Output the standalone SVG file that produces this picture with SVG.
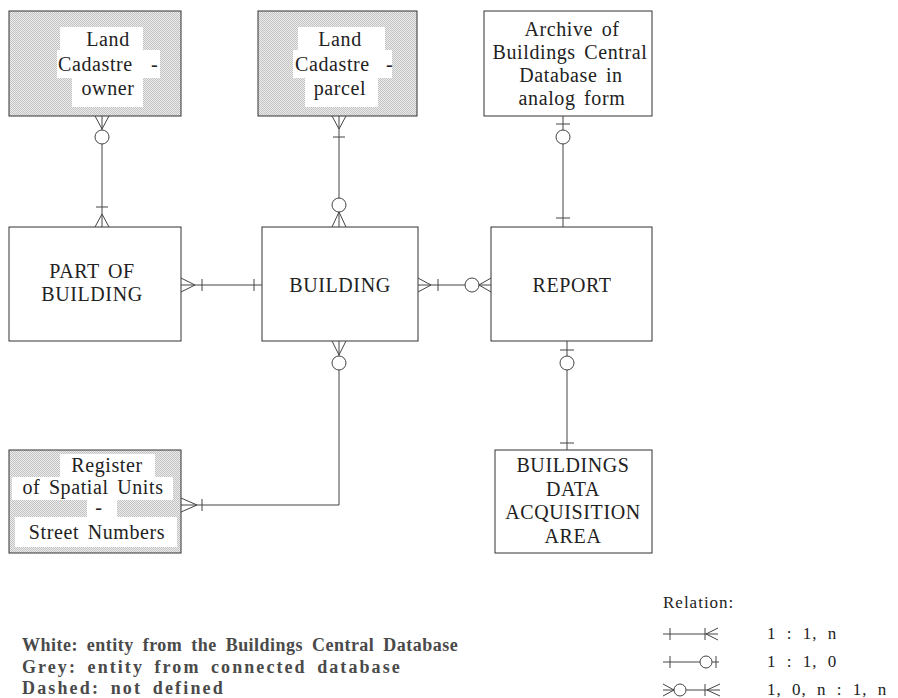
<svg xmlns="http://www.w3.org/2000/svg" width="898" height="698" viewBox="0 0 898 698">
  <defs>
    <!-- halftone grey used for entities of connected databases -->
    <pattern id="halftone" width="2" height="2" patternUnits="userSpaceOnUse">
      <rect width="2" height="2" fill="#ededed"/>
      <rect width="1" height="1" fill="#c2c2c2"/>
      <rect x="1" y="1" width="1" height="1" fill="#c2c2c2"/>
    </pattern>
  </defs>
  <style>
    .box { fill: #ffffff; stroke: #333; stroke-width: 1; }
    .grey { fill: url(#halftone); stroke: #333; stroke-width: 1; }
    .pad { fill: #ffffff; stroke: none; }
    .lbl { font-family: "Liberation Serif", "Times New Roman", serif; font-size: 20px; letter-spacing: 0.6px; word-spacing: 3px; fill: #222; }
    .c { text-anchor: middle; }
    .conn line, .conn polyline, .conn path { stroke: #444; stroke-width: 1; fill: none; }
    .conn circle { stroke: #444; stroke-width: 1; fill: #fff; }
    .key line, .key path { stroke: #444; stroke-width: 1; fill: none; }
    .key circle { stroke: #444; stroke-width: 1; fill: #fff; }
    .rel { font-family: "Liberation Serif", "Times New Roman", serif; font-size: 17px; letter-spacing: 1px; word-spacing: 5px; fill: #222; }
    .note { font-family: "Liberation Serif", "Times New Roman", serif; font-size: 18px; font-weight: bold; letter-spacing: 0.3px; word-spacing: 4px; fill: #4a4a4a; }
  </style>

  <rect width="898" height="698" fill="#ffffff"/>

  <!-- Entities -->
  <g id="land-cadastre-owner">
    <rect class="grey" x="9" y="11" width="172" height="105"/>
    <rect class="pad" x="60" y="27" width="83" height="24"/>
    <rect class="pad" x="57" y="50" width="103" height="28"/>
    <rect class="pad" x="72" y="77" width="71" height="30"/>
    <text class="lbl c" x="108" y="46">Land</text>
    <text class="lbl" x="58" y="71">Cadastre <tspan x="151">-</tspan></text>
    <text class="lbl c" x="108" y="95">owner</text>
  </g>

  <g id="land-cadastre-parcel">
    <rect class="grey" x="258" y="11" width="159" height="105"/>
    <rect class="pad" x="298" y="27" width="87" height="24"/>
    <rect class="pad" x="293" y="50" width="99" height="28"/>
    <rect class="pad" x="305" y="77" width="73" height="30"/>
    <text class="lbl c" x="340" y="46">Land</text>
    <text class="lbl" x="295" y="71">Cadastre <tspan x="386">-</tspan></text>
    <text class="lbl c" x="340" y="95">parcel</text>
  </g>

  <g id="archive">
    <rect class="box" x="484" y="11" width="168" height="105"/>
    <text class="lbl c" x="572" y="36">Archive of</text>
    <text class="lbl c" x="570" y="59">Buildings Central</text>
    <text class="lbl c" x="571" y="82">Database in</text>
    <text class="lbl c" x="572" y="105">analog form</text>
  </g>

  <g id="part-of-building">
    <rect class="box" x="9" y="227" width="172" height="114"/>
    <text class="lbl c" x="92" y="278">PART OF</text>
    <text class="lbl c" x="92" y="301">BUILDING</text>
  </g>

  <g id="building">
    <rect class="box" x="262" y="227" width="156" height="114"/>
    <text class="lbl c" x="340" y="292">BUILDING</text>
  </g>

  <g id="report">
    <rect class="box" x="491" y="227" width="161" height="114"/>
    <text class="lbl c" x="572" y="292">REPORT</text>
  </g>

  <g id="register-spatial-units">
    <rect class="grey" x="9" y="450" width="172" height="103"/>
    <rect class="pad" x="60" y="454" width="95" height="24"/>
    <rect class="pad" x="12" y="477" width="161" height="23"/>
    <rect class="pad" x="87" y="499" width="30" height="19"/>
    <rect class="pad" x="15" y="517" width="162" height="30"/>
    <text class="lbl c" x="107" y="472">Register</text>
    <text class="lbl c" x="93" y="494">of Spatial Units</text>
    <text class="lbl c" x="99" y="514">-</text>
    <text class="lbl c" x="97" y="539">Street Numbers</text>
  </g>

  <g id="data-acquisition-area">
    <rect class="box" x="495" y="450" width="157" height="103"/>
    <text class="lbl c" x="573" y="472">BUILDINGS</text>
    <text class="lbl c" x="573" y="496">DATA</text>
    <text class="lbl c" x="573" y="519">ACQUISITION</text>
    <text class="lbl c" x="573" y="543">AREA</text>
  </g>

  <!-- Relationships -->
  <g id="connectors" class="conn">
    <!-- owner / part of building -->
    <line x1="102" y1="116" x2="102" y2="227"/>
    <path d="M95,116 L102,129 L109,116"/>
    <circle cx="102" cy="137" r="7"/>
    <line x1="96" y1="207" x2="108" y2="207"/>
    <path d="M95,227 L102,214 L109,227"/>

    <!-- parcel / building -->
    <line x1="339" y1="116" x2="339" y2="227"/>
    <path d="M332,116 L339,129 L346,116"/>
    <line x1="333" y1="137" x2="345" y2="137"/>
    <circle cx="339" cy="205" r="7"/>
    <path d="M332,227 L339,212 L346,227"/>

    <!-- archive / report -->
    <line x1="563" y1="116" x2="563" y2="227"/>
    <line x1="556" y1="124" x2="570" y2="124"/>
    <circle cx="563" cy="137" r="7"/>
    <line x1="556" y1="218" x2="570" y2="218"/>

    <!-- part of building / building -->
    <line x1="181" y1="285" x2="262" y2="285"/>
    <path d="M181,278 L195,285 L181,292"/>
    <line x1="202" y1="279" x2="202" y2="291"/>
    <line x1="254" y1="279" x2="254" y2="291"/>

    <!-- building / report -->
    <line x1="418" y1="285" x2="491" y2="285"/>
    <path d="M418,278 L431,285 L418,292"/>
    <line x1="438" y1="279" x2="438" y2="291"/>
    <circle cx="472" cy="285" r="7"/>
    <path d="M491,278 L479,285 L491,292"/>

    <!-- report / data acquisition area -->
    <line x1="567" y1="341" x2="567" y2="450"/>
    <line x1="560" y1="350" x2="574" y2="350"/>
    <circle cx="567" cy="363" r="7"/>
    <line x1="560" y1="443" x2="574" y2="443"/>

    <!-- building / register of spatial units -->
    <polyline points="339,341 339,505 181,505"/>
    <path d="M332,341 L339,355 L346,341"/>
    <circle cx="339" cy="363" r="7"/>
    <path d="M181,498 L197,505 L181,512"/>
    <line x1="202" y1="499" x2="202" y2="511"/>
  </g>

  <!-- Key -->
  <g id="legend">
    <text class="rel" x="663" y="608">Relation:</text>
    <g class="key">
      <line x1="663" y1="634" x2="718" y2="634"/>
      <line x1="670" y1="628" x2="670" y2="640"/>
      <line x1="705" y1="628" x2="705" y2="640"/>
      <path d="M718,628 L706,634 L718,640"/>

      <line x1="663" y1="662" x2="700" y2="662"/>
      <line x1="670" y1="656" x2="670" y2="668"/>
      <circle cx="706" cy="662" r="6"/>
      <line x1="712" y1="662" x2="719" y2="662"/>
      <line x1="716" y1="656" x2="716" y2="668"/>

      <path d="M663,684 L674,690 L663,696"/>
      <line x1="663" y1="690" x2="674" y2="690"/>
      <circle cx="680" cy="690" r="6"/>
      <line x1="686" y1="690" x2="720" y2="690"/>
      <line x1="705" y1="684" x2="705" y2="696"/>
      <path d="M720,684 L707,690 L720,696"/>
    </g>
    <text class="rel" x="767" y="639">1 : 1, n</text>
    <text class="rel" x="767" y="667">1 : 1, 0</text>
    <text class="rel" x="767" y="695">1, 0, n : 1, n</text>

    <text class="note" x="22" y="651" textLength="436" lengthAdjust="spacing">White: entity from the Buildings Central Database</text>
    <text class="note" x="22" y="673" textLength="378" lengthAdjust="spacing">Grey: entity from connected database</text>
    <text class="note" x="22" y="694" textLength="201" lengthAdjust="spacing">Dashed: not defined</text>
  </g>
</svg>
